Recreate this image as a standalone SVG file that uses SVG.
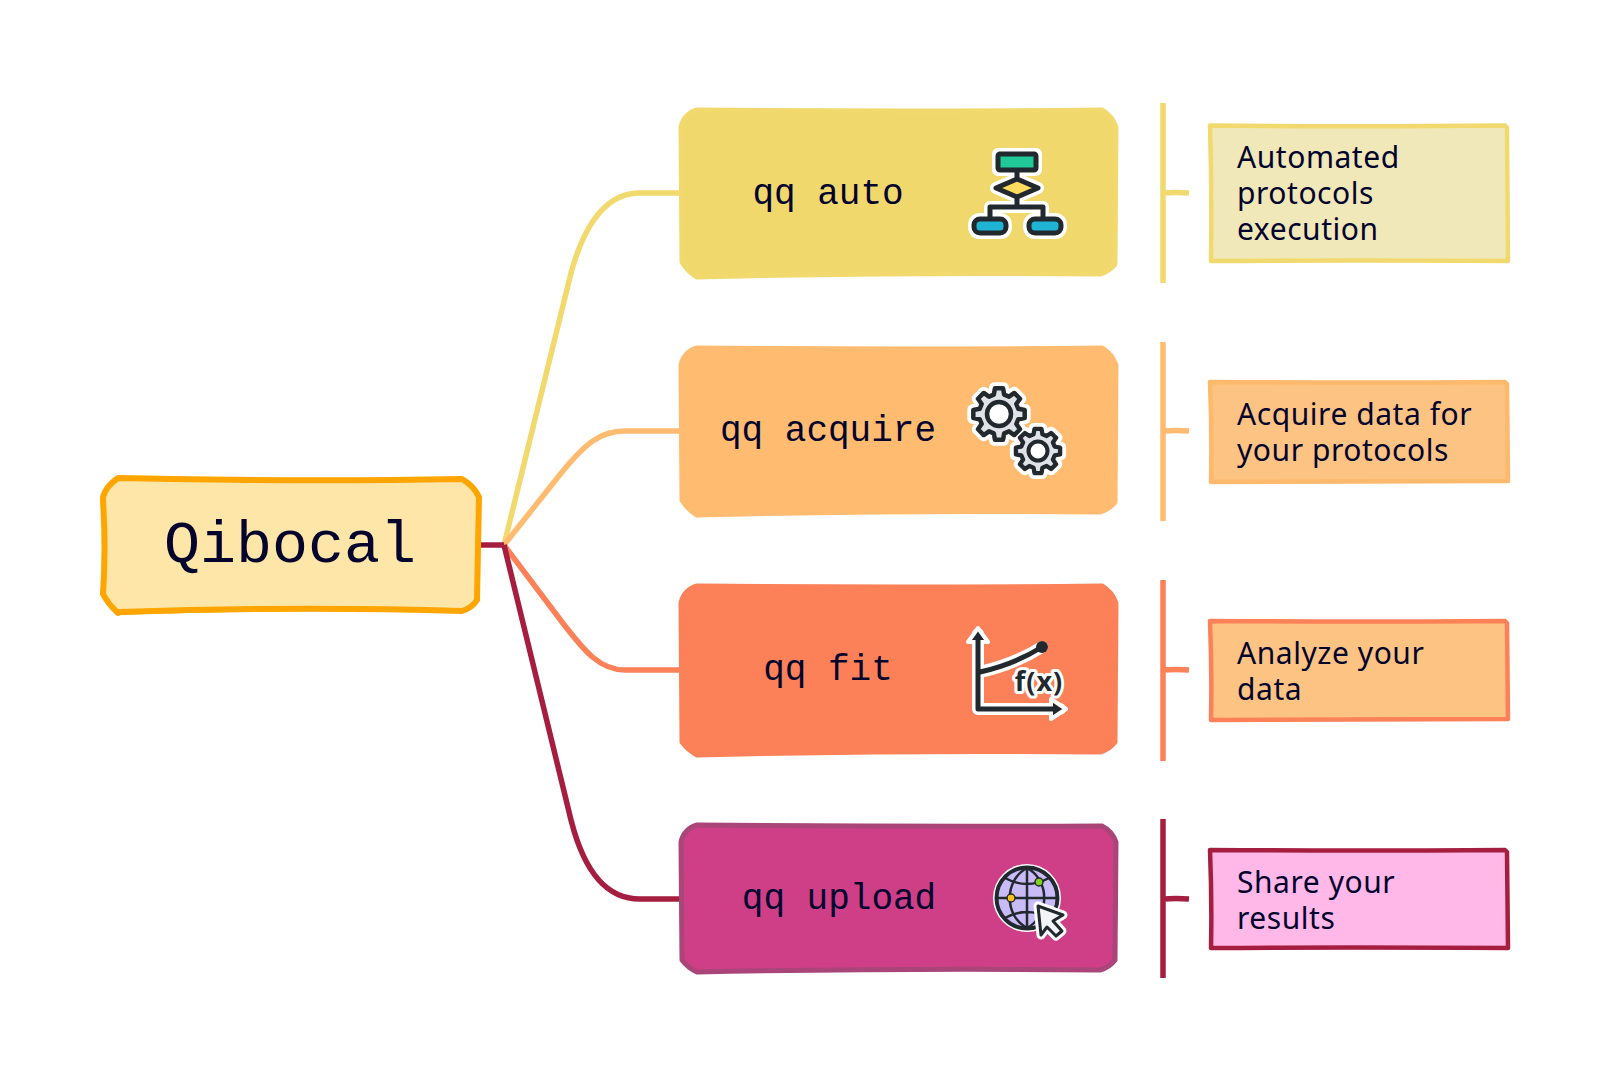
<svg xmlns="http://www.w3.org/2000/svg" width="1610" height="1082" viewBox="0 0 1610 1082">
<style>
text{fill:#03032e}
.mono{font-family:"Liberation Mono",monospace;font-size:36px}
.desc{font-family:"Noto Sans","Open Sans",sans-serif;font-size:30px;letter-spacing:.55px}
.conn{fill:none;stroke-width:5.500}
.bx{stroke-width:5;stroke-linejoin:round}
.dt{stroke-width:4.500;stroke-linejoin:round}
.hl{fill:none;stroke:#fff;stroke-width:12;stroke-linejoin:round;stroke-linecap:round}
.ic{stroke:#21282e;stroke-width:5;stroke-linejoin:round;stroke-linecap:round}
.icl{fill:none;stroke:#21282e;stroke-width:5;stroke-linejoin:round;stroke-linecap:round}
</style>
<defs>
<path id="gear" stroke-linejoin="round" d="M19.320 -5.180L25.680 -4.070L25.680 4.070L19.320 5.180L17.320 10L21.040 15.280L15.280 21.040L10 17.320L5.180 19.320L4.070 25.680L-4.070 25.680L-5.180 19.320L-10 17.320L-15.280 21.040L-21.040 15.280L-17.320 10L-19.320 5.180L-25.680 4.070L-25.680 -4.070L-19.320 -5.180L-17.320 -10L-21.040 -15.280L-15.280 -21.040L-10 -17.320L-5.180 -19.320L-4.070 -25.680L4.070 -25.680L5.180 -19.320L10 -17.320L15.280 -21.040L21.040 -15.280L17.320 -10Z"/>
</defs>
<rect width="1610" height="1082" fill="#fff"/>
<g id="connectors">
<path class="conn" stroke="#f2d96e" d="M504 545L571 273C585 222 608 193 640 193L679 193"/>
<path class="conn" stroke="#ffbc71" d="M504 545L562 472C585 444 600 431 625 431L679 431"/>
<path class="conn" stroke="#fc8158" d="M504 545L562 622C585 652 600 670 625 670L679 670"/>
<path class="conn" stroke="#a61e3f" d="M504 545L571 820C585 875 608 899 640 899L679 899"/>
<path class="conn" stroke="#a61e3f" d="M480 545L504 545"/>
<path class="conn" stroke="#f2d96e" d="M1163 103V283M1163 193Q1176 192 1189 193"/>
<path class="conn" stroke="#ffbc71" d="M1163 342V521M1163 431Q1176 430 1189 431"/>
<path class="conn" stroke="#fc8158" d="M1163 580V761M1163 670Q1176 669 1189 670"/>
<path class="conn" stroke="#a61e3f" d="M1163 819V978M1163 899Q1176 898 1189 899"/>
</g>
<g id="qibocal">
<path fill="#fee6a8" stroke="#ffa500" stroke-width="6" stroke-linejoin="round" d="M118 478Q106 486 103 497L103 500Q106 550 103 594Q108 604 118 613L120 612Q300 606 462 611Q472 608 477 600Q478 550 479 497Q474 486 462 479Q300 482 118 478Z"/>
<path fill="none" stroke="#ffa500" stroke-width="4" d="M120 613Q200 610 300 609"/>
<text x="290" y="562" text-anchor="middle" font-family="Liberation Mono, monospace" font-size="60">Qibocal</text>
</g>
<g id="auto">
<path class="bx" fill="#f0d86c" stroke="#f2d96e" d="M697 110Q684 114 681 127L682 262Q688 272 697 277Q900 272 1100 274Q1110 271 1115 264L1116 127Q1112 116 1102 110Q900 112 697 110Z"/>
<text class="mono" x="828" y="204" text-anchor="middle">qq auto</text>
<g>
<path class="hl" d="M998 154H1036V170H998ZM1017 170V180M996 188L1017 179L1038 188L1017 197ZM1017 197V207M990 218V207H1043V218M980 219H1000Q1006 219 1006 226T1000 233H980Q974 233 974 226T980 219ZM1035 219H1055Q1061 219 1061 226T1055 233H1035Q1029 233 1029 226T1035 219Z"/>
<path class="icl" d="M1017 170V180M1017 197V207M990 218V207H1043V218"/>
<rect class="ic" x="998" y="154" width="38" height="16" rx="2" fill="#20c997"/>
<path class="ic" d="M996 188L1017 179L1038 188L1017 197Z" fill="#ffdc5e"/>
<rect class="ic" x="974" y="219" width="32" height="14" rx="6" fill="#20b4d4"/>
<rect class="ic" x="1029" y="219" width="32" height="14" rx="6" fill="#20b4d4"/>
</g>
</g>
<g id="acquire">
<path class="bx" fill="#ffbc71" stroke="#ffbc71" d="M697 348Q684 352 681 365L682 500Q688 510 697 515Q900 510 1100 512Q1110 509 1115 502L1116 365Q1112 354 1102 348Q900 350 697 348Z"/>
<text class="mono" x="828" y="441" text-anchor="middle">qq acquire</text>
<use href="#gear" transform="translate(999 414)" fill="#fff" stroke="#fff" stroke-width="12"/>
<use href="#gear" transform="translate(1038 451) scale(.86)" fill="#fff" stroke="#fff" stroke-width="14"/>
<use href="#gear" transform="translate(999 414)" fill="#dfe3e8" stroke="#21282e" stroke-width="4.500"/>
<circle cx="999" cy="414" r="12" fill="#fff" stroke="#21282e" stroke-width="4.500"/>
<use href="#gear" transform="translate(1038 451) scale(.86)" fill="#dfe3e8" stroke="#21282e" stroke-width="5"/>
<circle cx="1038" cy="451" r="9.500" fill="#fff" stroke="#21282e" stroke-width="4"/>
</g>
<g id="fit">
<path class="bx" fill="#fc8158" stroke="#fc8158" d="M697 586Q684 590 681 603L682 742Q688 750 697 755Q900 750 1100 752Q1110 749 1115 742L1116 603Q1112 592 1102 586Q900 588 697 586Z"/>
<text class="mono" x="828" y="680" text-anchor="middle">qq fit</text>
<path class="hl" d="M978 708V634M980 672Q1015 664 1042 647M978 709H1060" stroke-width="11"/>
<path d="M978 628L988 642H968ZM1066 709L1051 699V719Z" fill="#21282e" stroke="#fff" stroke-width="4" stroke-linejoin="round"/>
<path class="icl" d="M978 708V640M980 672Q1015 664 1042 647M978 709H1054"/>
<circle cx="1042" cy="647" r="6" fill="#21282e"/>
<text x="1039" y="691" text-anchor="middle" font-family="Noto Sans, sans-serif" font-size="27" font-weight="700" letter-spacing="1" style="fill:#21282e;paint-order:stroke" stroke="#fff" stroke-width="6" stroke-linejoin="round">f(x)</text>
</g>
<g id="upload">
<path fill="#cf3f87" stroke="#a94578" stroke-width="5" stroke-linejoin="round" d="M697 825Q684 829 681 842L682 960Q688 968 697 972Q900 968 1100 970Q1110 967 1115 960L1116 842Q1112 831 1102 826Q900 827 697 825Z"/>
<text class="mono" x="839" y="909" text-anchor="middle">qq upload</text>
<circle cx="1027" cy="898" r="34" fill="#fff"/>
<circle cx="1027" cy="898" r="30.500" fill="#c9bbf8" stroke="#21282e" stroke-width="4"/>
<path class="icl" style="stroke-width:2.500" d="M1027 868V928M997 898H1057M1027 868C1004 880 1004 916 1027 928M1027 868C1050 880 1050 916 1027 928M1005 878Q1027 890 1049 878M1005 918Q1027 906 1049 918"/>
<circle cx="1011" cy="898" r="4" fill="#ffc21a" stroke="#21282e" stroke-width="1.500"/>
<circle cx="1039" cy="882" r="4" fill="#7ed321" stroke="#21282e" stroke-width="1.500"/>
<path d="M1038 906L1063 915L1053 921L1062 931L1056 936L1047 927L1041 935Z" fill="#f2f4f6" stroke="#fff" stroke-width="9" stroke-linejoin="round"/>
<path d="M1038 906L1063 915L1053 921L1062 931L1056 936L1047 927L1041 935Z" fill="#f2f4f6" stroke="#21282e" stroke-width="3" stroke-linejoin="round"/>
</g>
<g id="desc-auto">
<path class="dt" fill="#f0e8b8" stroke="#f2d96e" d="M1210 125.500Q1350 127 1505 125.500L1507 127.500L1508 261Q1350 260 1211 261Q1212 190 1210 125.500Z"/>
<text class="desc"><tspan x="1237" y="168">Automated</tspan><tspan x="1237" y="204">protocols</tspan><tspan x="1237" y="240">execution</tspan></text>
</g>
<g id="desc-acquire">
<path class="dt" fill="#fdc382" stroke="#fdb96c" d="M1210 382Q1350 383 1505 382L1507 384L1508 481Q1350 481 1211 482Q1212 430 1210 382Z"/>
<text class="desc"><tspan x="1237" y="425">Acquire data for</tspan><tspan x="1237" y="461">your protocols</tspan></text>
</g>
<g id="desc-fit">
<path class="dt" fill="#fdc382" stroke="#fc8158" d="M1210 621Q1350 622 1505 621L1507 623L1508 719Q1350 719 1211 720Q1212 670 1210 621Z"/>
<text class="desc"><tspan x="1237" y="664">Analyze your</tspan><tspan x="1237" y="700">data</tspan></text>
</g>
<g id="desc-upload">
<path class="dt" fill="#ffb8e8" stroke="#a61e3f" d="M1210 850Q1350 851 1505 850L1507 852L1508 948Q1350 947 1211 948Q1212 900 1210 850Z"/>
<text class="desc"><tspan x="1237" y="893">Share your</tspan><tspan x="1237" y="929">results</tspan></text>
</g>
</svg>
